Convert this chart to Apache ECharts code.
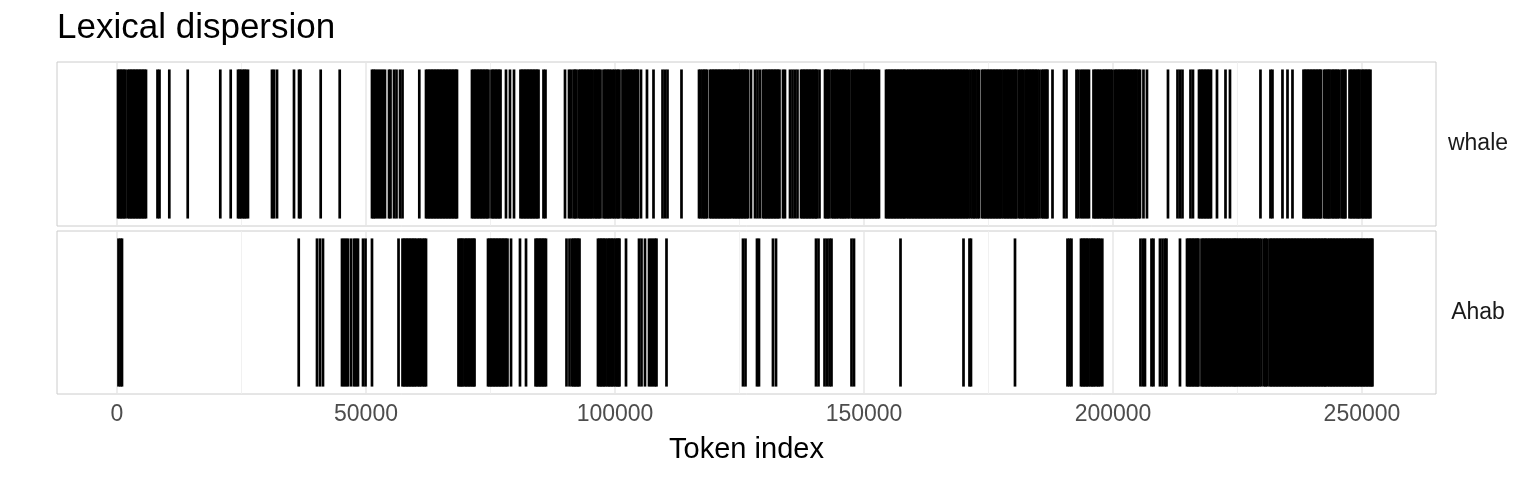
<!DOCTYPE html>
<html><head><meta charset="utf-8">
<script src="https://cdn.jsdelivr.net/npm/echarts@6/dist/echarts.min.js"></script>
<style>html,body{margin:0;padding:0;background:#fff}#c{width:1536px;height:480px}</style>
</head><body><div id="c"></div>
<script>
const chartTitle = 'Lexical dispersion';
const xTitle = 'Token index';
const terms = ['whale', 'Ahab'];
const tickValues = [0, 50000, 100000, 150000, 200000, 250000];
const minorTickValues = [25000, 75000, 125000, 175000, 225000];
const xRange = [-12050, 264860];

const whalePositions = [
200,500,800,1100,1410,1710,2210,2510,2810,3110,3410,3710,4020,4320,4620,4920,5220,5520,5820,
8130,8530,10500,14200,20740,22830,24300,24600,24900,25300,25600,25900,26300,31120,31530,32130,
35540,36550,36850,40900,44720,
51200,51510,51810,52210,52610,53010,53410,53810,54620,54920,55620,56120,56830,57330,60700,
62050,62350,62650,62950,63250,63550,63850,64160,64460,64760,65060,65360,65660,65960,66260,66570,
66870,67170,67470,67770,68070,68270,
71280,71590,71890,72190,72490,72790,73090,73390,73690,74000,74300,74600,
75200,75500,75800,76100,76400,76710,77010,78110,78910,79720,
81020,81320,81630,81930,82230,82530,82830,83130,83430,83730,84040,84340,84640,85640,86040,89960,
90760,91160,91670,91970,92270,92770,93070,93370,93670,93970,94280,94580,94880,95180,95480,
95880,96180,96480,96790,97090,97690,97990,98290,98590,98890,99200,
99600,99900,100300,100600,100900,101500,101810,102210,102510,102810,103110,103410,
103810,104120,104420,104620,105220,106420,107730,109540,110040,110540,113350,
116870,117170,117570,117870,118170,118470,119070,119370,119680,119980,120280,120580,120880,
121180,121480,121790,122090,122390,122690,122990,123290,123690,123990,124300,124600,124900,
125200,125500,125800,126100,126400,126710,127310,128110,128610,129120,
129720,130020,130320,130620,130920,131220,131520,131830,132130,132430,132730,133030,133730,134130,
135140,135640,136140,136640,
137350,137650,137950,138250,138550,138850,139150,139460,139760,140060,140360,140560,141060,
142170,142470,142770,143070,143570,143870,144170,144480,144780,145180,145480,145780,146080,146380,
146780,147090,147590,147890,148190,148490,148790,149090,149400,149700,150000,150300,150600,150900,
151200,151500,151800,152110,152410,152710,153010,
154420,154720,155020,155320,155620,155920,156220,156520,156820,157130,157430,157730,158030,158230,
158630,158930,159230,159540,159840,160140,160440,160740,161040,161340,161640,161950,162250,162550,
162850,163150,163450,163750,164050,164350,164660,164960,165260,165560,165860,166160,166460,166760,
167070,167370,167670,167970,168270,168570,168870,169170,169480,169780,170080,170380,170680,170980,
171380,171780,172090,172390,172790,173090,173690,174000,174300,174600,174900,175200,175500,175800,
176100,176410,176700,177010,177310,177610,
178010,178310,178610,178910,179210,179520,179820,180120,180420,180620,
181120,181420,181720,182020,182430,182730,183030,183330,183630,183930,184230,184540,184840,185240,
185740,186040,186340,186640,186840,187850,190160,190660,192670,193070,
193570,193970,194370,194780,195180,
196080,196380,196680,196980,197290,197590,197990,198290,198590,198890,199190,199500,199800,
200300,200600,200900,201200,201500,201800,202110,202410,202710,203010,203310,203610,203910,
204220,204520,204720,205120,205420,206120,206820,211040,212950,213450,213950,215560,216060,
217270,217570,217870,218170,218470,218770,219070,219370,219680,220880,222590,223490,
229610,231620,232020,234030,235040,236040,
238250,238550,238850,239150,239450,239760,240060,240360,240660,240960,241260,241560,241760,
242370,242670,242970,243270,243470,243870,244170,244470,244780,245080,245380,
245880,246180,246480,246680,247490,247790,248090,248390,248690,248990,249290,249490,
249900,250200,250500,250800,251100,251400,251700
];

const ahabPositions = [
300,700,1000,36490,40160,40760,41360,45180,45580,45980,46380,46990,47590,47990,48390,49400,49900,
51200,56530,57330,57630,57930,58230,58530,58830,59140,59440,59740,60040,60440,60740,61040,
61440,61750,62050,
68570,68870,69170,69380,69780,70080,70380,70680,70980,71280,71590,71790,
74500,74800,75100,75400,75700,76000,76300,76610,76910,77210,77510,77810,78110,78410,79120,
80920,82130,84040,84340,84640,84940,85240,85540,85840,86140,
90260,90860,91360,91670,91970,92270,92570,92870,
96580,96890,97190,97490,97790,98090,98490,98790,99090,99400,99700,100100,100400,100700,100900,
102210,104820,105320,106020,106830,107230,107630,108030,108330,110340,
125700,126200,128510,128910,131720,132330,140360,140860,142070,142570,143070,143470,147490,147990,
157330,169980,171180,171480,180320,190860,191260,191660,
193570,193870,194170,194470,194780,195080,195480,195780,196080,196380,196780,197080,197390,197850,
205520,206020,206420,207730,208130,209430,209940,210440,210740,213450,
214860,215160,215460,215760,216060,216360,216670,216970,217170,
217770,218070,218370,218670,218970,219270,219580,219880,220180,220480,220780,
221080,221380,221680,221980,222290,222590,222890,223190,223490,223790,224090,224390,224590,
224900,225200,225500,225800,226100,226400,226700,227000,227310,227610,
227910,228210,228510,228810,229110,229410,229810,230320,230620,230920,
231420,231720,232020,232330,232630,232930,233230,233530,233830,234130,234430,234740,235040,
235340,235640,235940,236240,236540,236840,237150,237450,237750,238050,238350,238650,238950,239250,
239550,239860,240160,240460,240760,241060,241360,241660,241960,242270,242570,242770,
243170,243470,243770,244070,244370,244670,244980,245280,245580,245880,246180,246480,246790,
247090,247390,247690,247990,248290,248590,248890,249190,249490,249800,250100,250400,250700,
251000,251300,251600,251900,252100
];

const termData = [whalePositions, ahabPositions];
const FONT = '"Liberation Sans", Arial, Helvetica, sans-serif';

const chart = echarts.init(document.getElementById('c'), null, {renderer: 'canvas'});

const grids = [
  {left: 57, top: 62, width: 1379, height: 164, show: true, borderColor: '#CCCCCC', borderWidth: 1, backgroundColor: '#fff', z: 0},
  {left: 57, top: 231, width: 1379, height: 163, show: true, borderColor: '#CCCCCC', borderWidth: 1, backgroundColor: '#fff', z: 0}
];

const xAxes = grids.map((g, i) => ({
  type: 'value', gridIndex: i, min: xRange[0], max: xRange[1],
  axisLine: {show: false}, axisTick: {show: false}, splitLine: {show: false},
  axisLabel: i === 1 ? {
    show: true, customValues: tickValues, color: '#4D4D4D', fontSize: 23, fontFamily: FONT,
    margin: 9, formatter: v => String(v)
  } : {show: false}
}));
const yAxes = grids.map((g, i) => ({type: 'value', gridIndex: i, min: -0.05, max: 1.05, show: false}));

function gridRender(width, color) {
  return function (params, api) {
    const v = api.value(0);
    const a = api.coord([v, -0.05]);
    const b = api.coord([v, 1.05]);
    return {type: 'line', shape: {x1: a[0], y1: a[1], x2: b[0], y2: b[1]}, style: {stroke: color, lineWidth: width}};
  };
}
function termRender(params, api) {
  const v = api.value(0);
  const a = api.coord([v, 0]);
  const b = api.coord([v, 1]);
  return {type: 'line', shape: {x1: a[0], y1: a[1], x2: b[0], y2: b[1]}, style: {stroke: '#000', lineWidth: 2.7}};
}

const series = [];
terms.forEach((t, i) => {
  series.push({type: 'custom', xAxisIndex: i, yAxisIndex: i, z: 1, silent: true,
    data: minorTickValues.map(v => [v, 0]), encode: {x: 0, y: 1}, renderItem: gridRender(0.8, '#EEEEEE'), clip: true});
  series.push({type: 'custom', xAxisIndex: i, yAxisIndex: i, z: 1, silent: true,
    data: tickValues.map(v => [v, 0]), encode: {x: 0, y: 1}, renderItem: gridRender(1.4, '#E6E6E6'), clip: true});
  series.push({type: 'custom', name: t, xAxisIndex: i, yAxisIndex: i, z: 2, silent: true,
    data: termData[i].map(v => [v, 0]), encode: {x: 0, y: 1}, renderItem: termRender, clip: true});
});

chart.setOption({
  animation: false,
  backgroundColor: '#ffffff',
  grid: grids,
  xAxis: xAxes,
  yAxis: yAxes,
  series: series,
  graphic: [
    {type: 'text', left: 57, top: 11, style: {text: chartTitle, fontSize: 35, fontFamily: FONT, fill: '#000'}},
    {type: 'text', x: 1478, y: 144, style: {text: terms[0], fontSize: 23, fontFamily: FONT, fill: '#1A1A1A', align: 'center', verticalAlign: 'middle'}},
    {type: 'text', x: 1478, y: 312.5, style: {text: terms[1], fontSize: 23, fontFamily: FONT, fill: '#1A1A1A', align: 'center', verticalAlign: 'middle'}},
    {type: 'text', x: 746.5, y: 450, style: {text: xTitle, fontSize: 29, fontFamily: FONT, fill: '#000', align: 'center', verticalAlign: 'middle'}}
  ]
});
</script>
</body></html>
